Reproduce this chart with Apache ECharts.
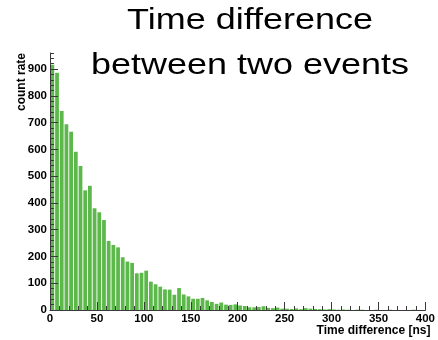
<!DOCTYPE html>
<html><head><meta charset="utf-8">
<script src="https://cdn.jsdelivr.net/npm/echarts@6/dist/echarts.min.js"></script>
<style>html,body{margin:0;padding:0;background:#fff}#chart{width:438px;height:340px}</style>
</head><body><div id="chart"></div>
<script>
// ---- data ----
const titleText = 'Time difference\nbetween two events';
const xAxisName = 'Time difference [ns]';
const yAxisName = 'count rate';
const binWidth = 5; // ns
const counts = [
  916, 886, 743, 694, 666, 591, 538, 447, 464, 380,
  365, 336, 258, 243, 234, 197, 181, 176, 137, 139,
  147, 106, 96, 87, 77, 76, 57, 82, 58, 51,
  42, 42, 45, 36, 30, 23, 28, 20, 19, 21,
  17, 15, 10, 10, 11, 14, 8, 7, 9, 5,
  5, 4, 6, 3, 7, 5, 4, 3, 2, 3,
  2, 1, 2, 1, 0, 1, 1, 0, 0, 1,
  0, 0, 1, 0, 0, 0, 0, 1, 0, 0
];
const binLabels = counts.map((_, i) => (i * binWidth) + '-' + ((i + 1) * binWidth));
const yMajorTicks = [0, 100, 200, 300, 400, 500, 600, 700, 800, 900];
const xMin = 0, xMax = 400, xStep = 50;
const yMin = 0, yMax = 960;

// ---- chart ----
const chart = echarts.init(document.getElementById('chart'), null, {renderer: 'canvas'});
const labelFont = {fontFamily: 'Liberation Sans, Arial, sans-serif', fontWeight: 'bold', fontSize: 11.5, color: '#000'};
const axisColor = '#3a3a3a';

chart.setOption({
  animation: false,
  backgroundColor: '#fff',
  graphic: [{
    type: 'text',
    x: 250, y: -2,
    scaleX: 1.24,
    z: 100,
    style: {
      text: titleText,
      font: 'normal 29px "Liberation Sans", Arial, sans-serif',
      fill: '#000',
      align: 'center',
      verticalAlign: 'top',
      lineHeight: 45
    }
  }],
  grid: {left: 50, right: 11, top: 53, bottom: 30, containLabel: false},
  xAxis: [
    {type: 'category', data: binLabels, show: false, boundaryGap: true},
    {
      type: 'value', min: xMin, max: xMax, interval: xStep, position: 'bottom', z: 10,
      axisLine: {show: true, lineStyle: {color: axisColor, width: 1}},
      axisTick: {show: true, inside: true, length: 8, lineStyle: {color: axisColor}},
      minorTick: {show: true, splitNumber: 5, length: 4, lineStyle: {color: axisColor}},
      axisLabel: Object.assign({margin: 3}, labelFont),
      splitLine: {show: false},
      name: xAxisName, nameLocation: 'end', nameGap: 5, nameMoveOverlap: false,
      nameTextStyle: {fontFamily: 'Liberation Sans, Arial, sans-serif', fontWeight: 'bold', fontSize: 12, color: '#000', align: 'right', verticalAlign: 'top', padding: [15, 0, 0, 0]}
    }
  ],
  yAxis: [
    {
      type: 'value', min: yMin, max: yMax, interval: 20, position: 'left', z: 10,
      axisLine: {show: true, lineStyle: {color: axisColor, width: 1}},
      axisTick: {show: true, inside: true, length: 4, lineStyle: {color: axisColor}},
      axisLabel: {show: false},
      splitLine: {show: false}
    },
    {
      type: 'value', min: yMin, max: yMax, interval: 100, position: 'left', z: 10,
      axisLine: {show: false},
      axisTick: {show: true, inside: true, length: 8, customValues: yMajorTicks, lineStyle: {color: axisColor}},
      axisLabel: Object.assign({margin: 3, customValues: yMajorTicks}, labelFont),
      splitLine: {show: false},
      name: yAxisName, nameLocation: 'end', nameGap: 0, nameRotate: 90, nameMoveOverlap: false,
      nameTextStyle: {fontFamily: 'Liberation Sans, Arial, sans-serif', fontWeight: 'bold', fontSize: 12, color: '#000', align: 'right', verticalAlign: 'bottom', padding: [0, 0, 22, 0]}
    }
  ],
  series: [{
    type: 'bar',
    xAxisIndex: 0, yAxisIndex: 0,
    data: counts,
    barCategoryGap: '20%',
    itemStyle: {color: '#5cb84a'},
    z: 2
  }]
});
</script>
</body></html>
